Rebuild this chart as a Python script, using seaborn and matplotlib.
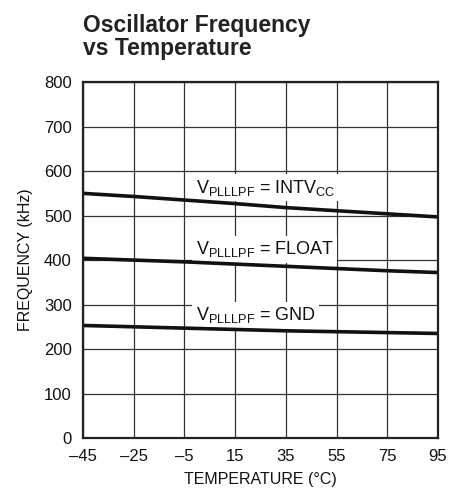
import numpy as np
import pandas as pd
import matplotlib
matplotlib.use('Agg')
import matplotlib.pyplot as plt
import seaborn as sns

temps = [-45, -25, -5, 15, 35, 55, 75, 95]
f_intvcc = [550, 543, 535, 527, 518, 511, 504, 497]
f_float = [404, 400, 396, 391, 386, 381, 376, 372]
f_gnd = [253, 250, 247, 244, 241, 239, 237, 235]
series_names = ['INTVCC', 'FLOAT', 'GND']
labels = [r'V$_{\mathregular{PLLLPF}}$ = INTV$_{\mathregular{CC}}$',
          r'V$_{\mathregular{PLLLPF}}$ = FLOAT',
          r'V$_{\mathregular{PLLLPF}}$ = GND']
label_xy = [(-0.5, 551), (-0.5, 413), (-0.5, 265)]

df = pd.DataFrame({
    'temp': temps * 3,
    'freq': f_intvcc + f_float + f_gnd,
    'pin': [s for s in series_names for _ in temps],
})

sns.set_style('white')
plt.rcParams['font.family'] = ['Liberation Sans', 'DejaVu Sans']
plt.rcParams['mathtext.fontset'] = 'custom'
plt.rcParams['mathtext.rm'] = 'Liberation Sans'

fig = plt.figure(figsize=(4.66, 4.98), dpi=100)
ax = fig.add_axes([0.178, 0.1205, 0.762, 0.7145])

sns.lineplot(data=df, x='temp', y='freq', units='pin', estimator=None,
             color='#111111', linewidth=2.6, ax=ax, legend=False, zorder=4)

ax.set_xlim(-45, 95)
ax.set_ylim(0, 800)
ax.set_xticks(temps)
ax.set_xticklabels([str(t).replace('-', '\u2013') for t in temps])
ax.set_yticks(range(0, 801, 100))
ax.grid(True, color='#333333', linewidth=0.9)
for s in ax.spines.values():
    s.set_color('#222222')
    s.set_linewidth(1.6)
    s.set_zorder(5)
ax.tick_params(labelsize=12, length=0, colors='#111111')
ax.tick_params(axis='x', pad=8)
ax.tick_params(axis='y', pad=8)

for (x, y), txt in zip(label_xy, labels):
    ax.text(x, y, txt, fontsize=13, va='baseline', ha='left', color='#111111',
            zorder=3, bbox=dict(facecolor='white', edgecolor='none', pad=2.5))

ax.set_xlabel('TEMPERATURE (°C)', fontsize=11.5, color='#111111', labelpad=6)
ax.set_ylabel('FREQUENCY (kHz)', fontsize=11.5, color='#111111', labelpad=8)

fig.text(0.178, 0.972, 'Oscillator Frequency\nvs Temperature', fontsize=16.5,
         fontweight='bold', va='top', ha='left', color='#222222', linespacing=1.02)

fig.savefig('out.png', dpi=100)
